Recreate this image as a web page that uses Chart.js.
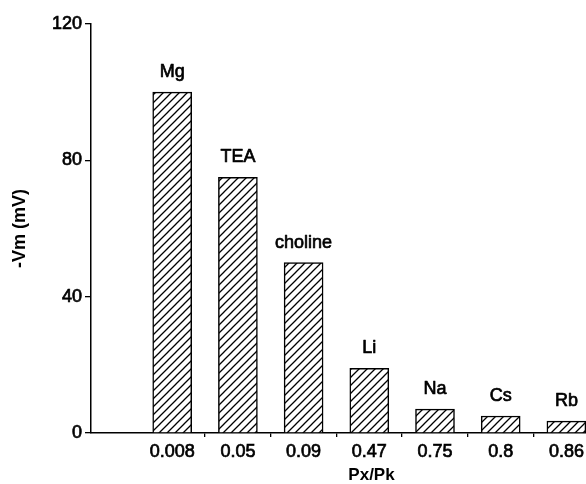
<!DOCTYPE html>
<html>
<head>
<meta charset="utf-8">
<script src="https://cdn.jsdelivr.net/npm/chart.js@4"></script>
<style>
  html, body { margin: 0; padding: 0; background: #fff; overflow: hidden; }
  #wrap { width: 652px; height: 484px; }
</style>
</head>
<body>
<div id="wrap"><canvas id="c" width="652" height="484"></canvas></div>
<script>
// Cation substitutions: membrane potential versus permeability ratio
const ions = ['Mg', 'TEA', 'choline', 'Li', 'Na', 'Cs', 'Rb'];
const permeabilityRatios = ['0.008', '0.05', '0.09', '0.47', '0.75', '0.8', '0.86'];
const membranePotential = [100, 75, 50, 19, 7, 5, 3.5];
const yTicks = [0, 40, 80, 120];

const FONT = "'Liberation Sans', Arial, Helvetica, sans-serif";
const TEXT_STROKE = 0.7;
const canvas = document.getElementById('c');
const ctx = canvas.getContext('2d');

// diagonal "/" hatching used to fill the bars
function makeHatch() {
  const s = 8;
  const tile = document.createElement('canvas');
  tile.width = s; tile.height = s;
  const g = tile.getContext('2d');
  g.fillStyle = '#fff';
  g.fillRect(0, 0, s, s);
  g.strokeStyle = '#000';
  g.lineWidth = 1.3;
  g.beginPath();
  g.moveTo(-1, s + 1); g.lineTo(s + 1, -1);
  g.moveTo(-1, 1); g.lineTo(1, -1);
  g.moveTo(s - 1, s + 1); g.lineTo(s + 1, s - 1);
  g.stroke();
  return ctx.createPattern(tile, 'repeat');
}

// bar positions 1..n; tick marks sit on the boundaries between bars
const positions = ions.map((_, i) => i + 1);
const xTickValues = [];
positions.forEach(p => { xTickValues.push(p); if (p < positions.length) xTickValues.push(p + 0.5); });

// ion names written above each bar
const ionLabels = {
  id: 'ionLabels',
  afterDatasetsDraw(chart) {
    const c = chart.ctx;
    const meta = chart.getDatasetMeta(0);
    c.save();
    c.font = `18px ${FONT}`;
    c.fillStyle = '#000';
    c.strokeStyle = '#000';
    c.lineWidth = TEXT_STROKE;
    c.lineJoin = 'round';
    c.textAlign = 'center';
    c.textBaseline = 'middle';
    meta.data.forEach((bar, i) => {
      c.strokeText(ions[i], bar.x, bar.y - 20);
      c.fillText(ions[i], bar.x, bar.y - 20);
    });
    c.restore();
  }
};

new Chart(ctx, {
  type: 'bar',
  data: {
    datasets: [{
      data: positions.map((p, i) => ({ x: p, y: membranePotential[i] })),
      backgroundColor: makeHatch(),
      borderColor: '#000',
      borderWidth: 1.5,
      barThickness: 39
    }]
  },
  options: {
    responsive: false,
    animation: false,
    layout: { padding: { top: 24, left: 0, right: 0, bottom: 0 } },
    plugins: { legend: { display: false }, tooltip: { enabled: false } },
    scales: {
      x: {
        type: 'linear',
        offset: false,
        min: -0.236,
        max: 8.303,
        afterBuildTicks: s => { s.ticks = xTickValues.map(v => ({ value: v })); },
        afterFit: s => { s.height = 51; },
        ticks: {
          autoSkip: false,
          maxRotation: 0,
          padding: 4,
          color: '#000',
          textStrokeColor: '#000',
          textStrokeWidth: TEXT_STROKE,
          font: { family: FONT, size: 18 },
          callback: v => Number.isInteger(v) ? permeabilityRatios[v - 1] : ''
        },
        grid: {
          offset: false,
          drawOnChartArea: false,
          tickLength: 4,
          lineWidth: 1.3,
          color: c => (c.tick && Number.isInteger(c.tick.value)) ? 'rgba(0,0,0,0)' : '#000'
        },
        border: { color: '#000', width: 1.5 },
        title: {
          display: true,
          text: 'Px/Pk',
          color: '#000',
          font: { family: FONT, size: 17, weight: 'bold' },
          padding: { top: 0, bottom: -2 }
        }
      },
      y: {
        min: 0,
        max: 120,
        afterBuildTicks: s => { s.ticks = yTicks.map(v => ({ value: v })); },
        afterFit: s => { s.width = 91; },
        ticks: {
          padding: 3,
          color: '#000',
          textStrokeColor: '#000',
          textStrokeWidth: TEXT_STROKE,
          font: { family: FONT, size: 18 }
        },
        grid: {
          drawOnChartArea: false,
          tickLength: 6,
          lineWidth: 1.3,
          color: '#000'
        },
        border: { color: '#000', width: 1.5 },
        title: {
          display: true,
          text: '-Vm (mV)',
          color: '#000',
          font: { family: FONT, size: 18, weight: 'bold' },
          padding: { top: 9, bottom: 0 }
        }
      }
    }
  },
  plugins: [ionLabels]
});
</script>
</body>
</html>
